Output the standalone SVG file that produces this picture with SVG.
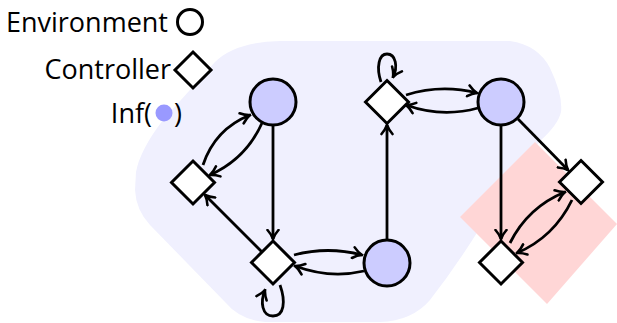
<svg xmlns="http://www.w3.org/2000/svg" width="617" height="323" viewBox="0 0 617 323">
  <style>
    .env { fill: #ccccff; stroke: #000; stroke-width: 3; }
    .ctl { fill: #fff; stroke: #000; stroke-width: 3; stroke-linejoin: miter; }
    .edge { fill: none; stroke: #000; stroke-width: 2.8; marker-end: url(#arr); }
    .label { font-family: "Open Sans", "Liberation Sans", sans-serif; font-size: 27px; fill: #000; }
  </style>
  <defs>
    <marker id="arr" viewBox="0 0 12 14" refX="10.5" refY="7" markerWidth="12" markerHeight="14" markerUnits="userSpaceOnUse" orient="auto">
      <path d="M1.5,1.5 Q6,5.5 10.5,7 Q6,8.5 1.5,12.5" fill="none" stroke="#000" stroke-width="2.6" stroke-linecap="round"/>
    </marker>
  </defs>

  <!-- regions -->
  <path id="region-inf" d="M 280,41 L 510,41 Q 538,45 550,68 Q 563,95 561,112 Q 558,125 540,141 L 480,228 Q 455,268 430,300 Q 412,321 380,322 L 265,322 Q 240,320 225,302 L 150,225 Q 136,210 135,190 L 136,172 Q 140,150 163,120 L 215,62 Q 235,42 280,41 Z" fill="#f0f0fe"/>
  <path id="region-trap" d="M 460,217 L 535,142 L 617,224 L 547,304 Z" fill="#ffd6d6"/>

  <!-- legend -->
  <g id="legend">
    <text class="label" x="168" y="32" text-anchor="end">Environment</text>
    <circle cx="190" cy="22" r="12.5" fill="#fff" stroke="#000" stroke-width="3"/>
    <text class="label" x="171" y="79" text-anchor="end">Controller</text>
    <path class="ctl" d="M193,52 L211,70 L193,88 L175,70 Z"/>
    <text class="label" x="152" y="123" text-anchor="end">Inf(</text>
    <circle cx="164" cy="113" r="8.5" fill="#9999ff"/>
    <text class="label" x="174" y="123">)</text>
  </g>

  <!-- connectors -->
  <g id="edges">
    <path class="edge" d="M273,125 L273,239"/>
    <path class="edge" d="M262,252 L205,195"/>
    <path class="edge" d="M203,165 Q215,129 250,115"/>
    <path class="edge" d="M262,123 Q246,159 210,175"/>
    <path class="edge" d="M294,255 Q328,246 362,255"/>
    <path class="edge" d="M364,271 Q330,279 295,266"/>
    <path class="edge" d="M280,285 C286,302 284,316 273,316 C262,316 260,302 265,290"/>
    <path class="edge" d="M387,240 L387,125"/>
    <path class="edge" d="M406,95 Q441,84 477,93"/>
    <path class="edge" d="M478,108 Q442,118 406,105"/>
    <path class="edge" d="M381,82 C376,67 379,54 387,54 C396,54 398,67 393,77"/>
    <path class="edge" d="M501,125 L501,239"/>
    <path class="edge" d="M518,119 L568,170"/>
    <path class="edge" d="M510,243 Q528,207 565,192"/>
    <path class="edge" d="M572,200 Q554,237 517,253"/>
  </g>

  <!-- nodes -->
  <g id="A"><circle class="env" cx="273" cy="102" r="23"/></g>
  <g id="B"><path class="ctl" d="M193,161 L214.5,182.5 L193,204 L171.5,182.5 Z"/></g>
  <g id="C"><path class="ctl" d="M273,241 L294.5,262.5 L273,284 L251.5,262.5 Z"/></g>
  <g id="D"><circle class="env" cx="387" cy="263" r="23"/></g>
  <g id="E"><path class="ctl" d="M387,80.5 L408.5,102 L387,123.5 L365.5,102 Z"/></g>
  <g id="F"><circle class="env" cx="501" cy="102" r="23"/></g>
  <g id="G"><path class="ctl" d="M581,160.5 L602.5,182 L581,203.5 L559.5,182 Z"/></g>
  <g id="H"><path class="ctl" d="M501,241 L522.5,262.5 L501,284 L479.5,262.5 Z"/></g>
</svg>
